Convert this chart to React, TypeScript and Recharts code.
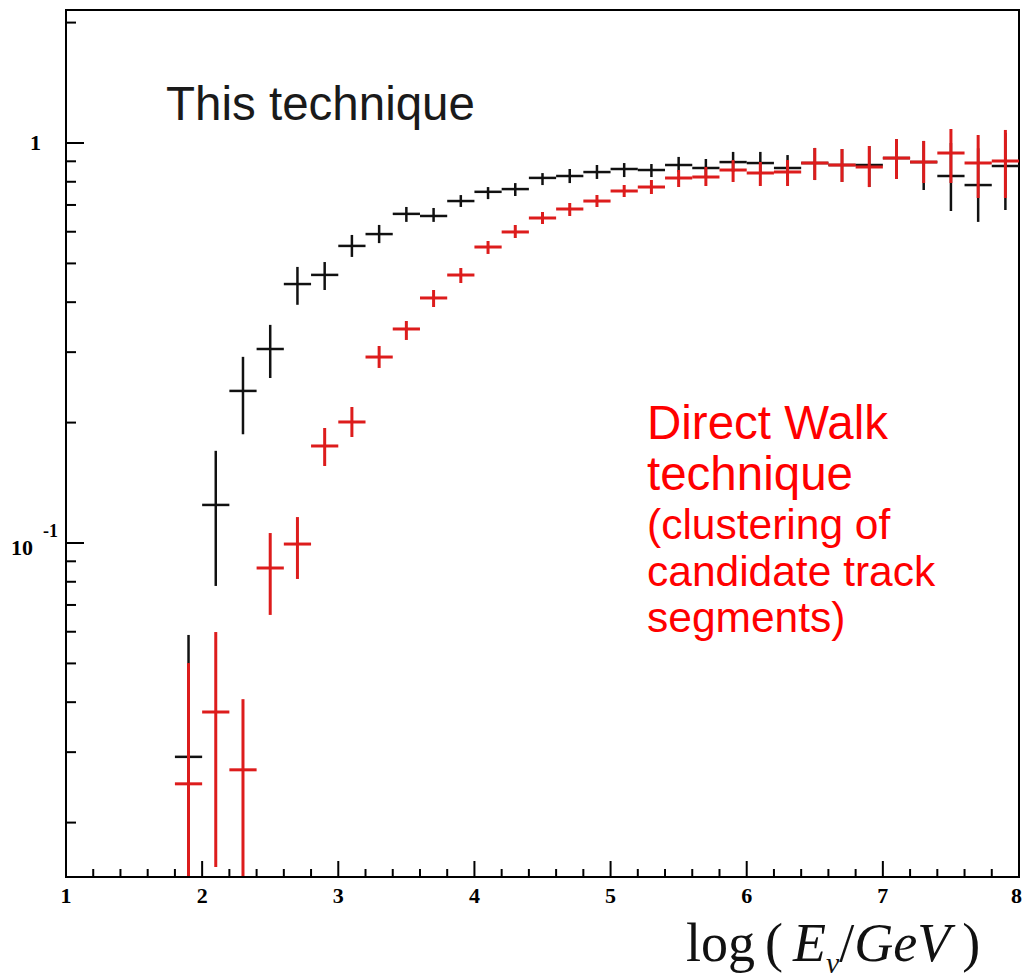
import React from 'react';
import {
  ScatterChart,
  Scatter,
  XAxis,
  YAxis,
  ErrorBar,
  ReferenceArea,
} from 'recharts';

// bin centres in log(E/GeV), bin half-width 0.1
const binCenters = [
  1.9, 2.1, 2.3, 2.5, 2.7, 2.9, 3.1, 3.3, 3.5, 3.7, 3.9, 4.1, 4.3, 4.5, 4.7, 4.9,
  5.1, 5.3, 5.5, 5.7, 5.9, 6.1, 6.3, 6.5, 6.7, 6.9, 7.1, 7.3, 7.5, 7.7, 7.9,
];
const binHalfWidth = 0.1;

// "This technique" (black)
const blackVal = [
  0.0292, 0.1245, 0.24, 0.3055, 0.444, 0.468, 0.553, 0.592, 0.665, 0.657, 0.716,
  0.755, 0.767, 0.818, 0.827, 0.846, 0.861, 0.856, 0.881, 0.866, 0.896, 0.891,
  0.866, 0.891, 0.881, 0.881, 0.917, 0.896, 0.827, 0.785, 0.876,
];
const blackLow = [
  0.01462, 0.0781, 0.187, 0.2585, 0.394, 0.429, 0.519, 0.562, 0.635, 0.635, 0.692,
  0.724, 0.737, 0.785, 0.794, 0.813, 0.822, 0.822, 0.846, 0.818, 0.846, 0.841,
  0.808, 0.808, 0.799, 0.776, 0.813, 0.763, 0.676, 0.635, 0.68,
];
const blackHigh = [
  0.0589, 0.17, 0.292, 0.351, 0.49, 0.504, 0.589, 0.624, 0.692, 0.688, 0.741,
  0.776, 0.794, 0.841, 0.861, 0.881, 0.891, 0.886, 0.923, 0.912, 0.95, 0.95,
  0.933, 0.972, 0.966, 0.983, 1.023, 1.012, 1.0, 0.97, 1.06,
];

// Direct Walk technique (red)
const redVal = [
  0.025, 0.0378, 0.0271, 0.0866, 0.0994, 0.1748, 0.2007, 0.2917, 0.3428, 0.4098,
  0.4677, 0.5495, 0.5992, 0.6494, 0.6839, 0.716, 0.7586, 0.7762, 0.8175, 0.8222,
  0.856, 0.8414, 0.8463, 0.8913, 0.881, 0.871, 0.917, 0.8964, 0.944, 0.8913, 0.9016,
];
const redLow = [
  0.01462, 0.01549, 0.01462, 0.0661, 0.0813, 0.1558, 0.1841, 0.2739, 0.3218, 0.389,
  0.4467, 0.528, 0.5788, 0.6273, 0.657, 0.6918, 0.7328, 0.7456, 0.7762, 0.7808,
  0.799, 0.7808, 0.7808, 0.8082, 0.799, 0.7762, 0.8128, 0.7943, 0.7943, 0.7286, 0.7286,
];
const redHigh = [
  0.0501, 0.0599, 0.0407, 0.1059, 0.1161, 0.1939, 0.2188, 0.3108, 0.3589, 0.429,
  0.487, 0.5689, 0.6237, 0.6722, 0.7079, 0.7413, 0.7852, 0.8082, 0.856, 0.871,
  0.9066, 0.8964, 0.9066, 0.9716, 0.966, 0.983, 1.023, 1.0116, 1.084, 1.047, 1.078,
];

const xTicks = [
  1, 1.2, 1.4, 1.6, 1.8, 2, 2.2, 2.4, 2.6, 2.8, 3, 3.2, 3.4, 3.6, 3.8, 4, 4.2, 4.4,
  4.6, 4.8, 5, 5.2, 5.4, 5.6, 5.8, 6, 6.2, 6.4, 6.6, 6.8, 7, 7.2, 7.4, 7.6, 7.8, 8,
];
const yTicks = [
  0.02, 0.03, 0.04, 0.05, 0.06, 0.07, 0.08, 0.09, 0.1, 0.2, 0.3, 0.4, 0.5, 0.6, 0.7,
  0.8, 0.9, 1, 2,
];
const xDomain = [1, 8];
const yDomain = [0.014622, 2.1503];

const BLACK = '#111111';
const RED = '#dd1c1c';
const SERIF = '"Liberation Serif", "DejaVu Serif", serif';

const buildRows = (vals, lows, highs) =>
  binCenters.map((x, i) => ({
    x,
    y: vals[i],
    ex: binHalfWidth,
    ey: [vals[i] - lows[i], highs[i] - vals[i]],
  }));

const blackRows = buildRows(blackVal, blackLow, blackHigh);
const redRows = buildRows(redVal, redLow, redHigh);

const labelStyle = (size) => ({
  fontFamily: SERIF,
  fontWeight: 700,
  fontSize: `${size}px`,
});

const XTick = ({ x, y, payload }) => {
  const v = payload.value;
  const major = Math.abs(v - Math.round(v)) < 1e-6;
  const last = v === xDomain[1];
  return (
    <g>
      <line x1={x} x2={x} y1={y} y2={y - (major ? 16 : 8)} stroke="#000" strokeWidth={2} />
      {major && (
        <text
          x={last ? x + 3 : x}
          y={y + 26}
          textAnchor={last ? 'end' : 'middle'}
          fill="#000"
          style={labelStyle(22)}
        >
          {String(Math.round(v))}
        </text>
      )}
    </g>
  );
};

const YTick = ({ x, y, payload }) => {
  const v = payload.value;
  const major = v === 1 || v === 0.1;
  return (
    <g>
      <line x1={x} x2={x + (major ? 18 : 10)} y1={y} y2={y} stroke="#000" strokeWidth={2} />
      {v === 1 && (
        <text x={x - 25} y={y + 7} textAnchor="end" fill="#000" style={labelStyle(22)}>
          1
        </text>
      )}
      {v === 0.1 && (
        <g>
          <text x={x - 33} y={y + 12} textAnchor="end" fill="#000" style={labelStyle(22)}>
            10
          </text>
          <text x={x - 8} y={y - 6} textAnchor="end" fill="#000" style={labelStyle(18)}>
            -1
          </text>
        </g>
      )}
    </g>
  );
};

const NoMarker = () => <g />;

const sans = '"Liberation Sans", Arial, sans-serif';

export default function App() {
  return (
    <div style={{ position: 'absolute', left: 0, top: 0, width: 1023, height: 978, background: '#fff' }}>
      <ScatterChart width={1023} height={978} margin={{ top: 10, right: 4, bottom: 61, left: 6 }}>
        <XAxis
          type="number"
          dataKey="x"
          domain={xDomain}
          ticks={xTicks}
          allowDataOverflow
          height={40}
          tickSize={0}
          tickMargin={0}
          tickLine={false}
          interval={0}
          axisLine={{ stroke: '#000', strokeWidth: 2 }}
          tick={XTick}
        />
        <YAxis
          type="number"
          dataKey="y"
          scale="log"
          domain={yDomain}
          ticks={yTicks}
          allowDataOverflow
          width={60}
          tickSize={0}
          tickMargin={0}
          tickLine={false}
          interval={0}
          axisLine={{ stroke: '#000', strokeWidth: 2 }}
          tick={YTick}
        />
        <ReferenceArea
          x1={xDomain[0]}
          x2={xDomain[1]}
          y1={yDomain[0]}
          y2={yDomain[1]}
          fill="none"
          stroke="#000"
          strokeWidth={2}
          ifOverflow="visible"
        />
        <Scatter data={blackRows} shape={<NoMarker />} isAnimationActive={false} legendType="none">
          <ErrorBar dataKey="ex" direction="x" width={0} stroke={BLACK} strokeWidth={2.5} isAnimationActive={false} />
          <ErrorBar dataKey="ey" direction="y" width={0} stroke={BLACK} strokeWidth={2.5} isAnimationActive={false} />
        </Scatter>
        <Scatter data={redRows} shape={<NoMarker />} isAnimationActive={false} legendType="none">
          <ErrorBar dataKey="ex" direction="x" width={0} stroke={RED} strokeWidth={3} isAnimationActive={false} />
          <ErrorBar dataKey="ey" direction="y" width={0} stroke={RED} strokeWidth={3} isAnimationActive={false} />
        </Scatter>
      </ScatterChart>

      <div style={{ position: 'absolute', left: 166, top: 80, fontFamily: sans, fontSize: 47.5, lineHeight: '47px', color: '#1a1a1a', whiteSpace: 'nowrap' }}>
        This technique
      </div>

      <div style={{ position: 'absolute', left: 647, top: 399, fontFamily: sans, fontSize: 47.5, lineHeight: '47px', color: '#ff0000', whiteSpace: 'nowrap' }}>
        Direct Walk
      </div>
      <div style={{ position: 'absolute', left: 647, top: 450, fontFamily: sans, fontSize: 47.5, lineHeight: '47px', color: '#ff0000', whiteSpace: 'nowrap' }}>
        technique
      </div>
      <div style={{ position: 'absolute', left: 647, top: 504, fontFamily: sans, fontSize: 42.5, lineHeight: '42px', color: '#ff0000', whiteSpace: 'nowrap' }}>
        (clustering of
      </div>
      <div style={{ position: 'absolute', left: 647, top: 551, fontFamily: sans, fontSize: 42.5, lineHeight: '42px', color: '#ff0000', whiteSpace: 'nowrap' }}>
        candidate track
      </div>
      <div style={{ position: 'absolute', left: 647, top: 597, fontFamily: sans, fontSize: 42.5, lineHeight: '42px', color: '#ff0000', whiteSpace: 'nowrap' }}>
        segments)
      </div>

      <div
        style={{
          position: 'absolute',
          left: 686,
          top: 916,
          fontFamily: SERIF,
          fontSize: 54,
          lineHeight: '54px',
          color: '#111',
          whiteSpace: 'nowrap',
        }}
      >
        log<span style={{ marginLeft: 10, marginRight: 10 }}>(</span>
        <i>E</i>
        <sub style={{ fontSize: 30, fontStyle: 'italic' }}>ν</sub>
        /<i>GeV</i>
        <span style={{ marginLeft: 12 }}>)</span>
      </div>
    </div>
  );
}
